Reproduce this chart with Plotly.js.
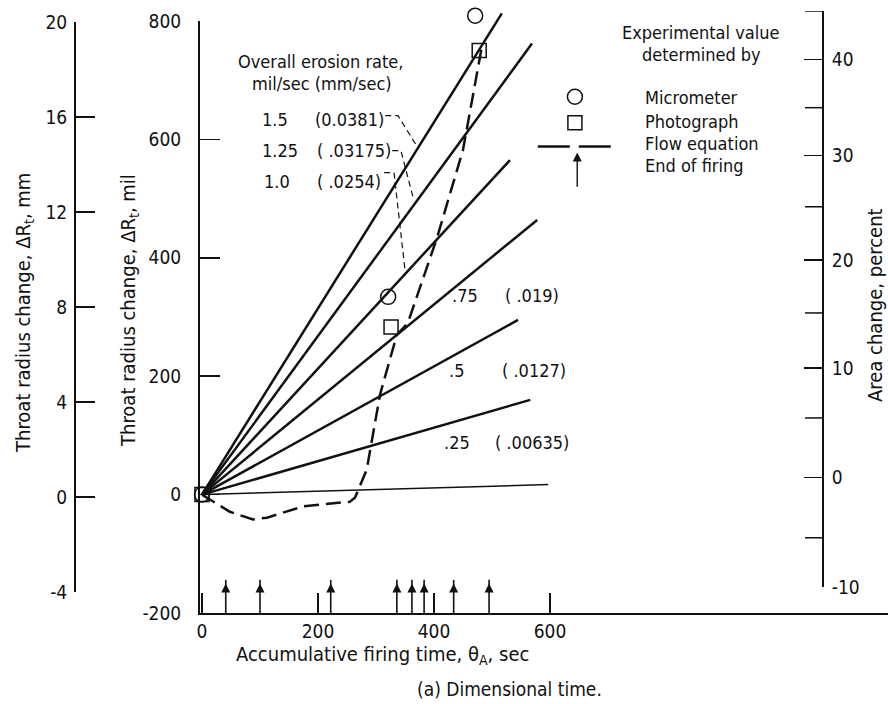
<!DOCTYPE html>
<html><head><meta charset="utf-8">
<script src="https://cdn.plot.ly/plotly-3.0.1.min.js"></script>
<style>body{margin:0;background:#fff}</style>
</head><body><div id="chart" style="width:888px;height:704px"></div>
<script>
// ---------- DATA ----------
// Overall erosion-rate reference lines, mil/sec (mm/sec)
const rateLabels = ['1.5', '1.25', '1.0', '.75', '.5', '.25', ''];
const rateMmLabels = ['(0.0381)', '( .03175)', '( .0254)', '( .019)', '( .0127)', '( .00635)', ''];
const originTime = 0, originValue = 0;
const rateEndTime = [517, 569, 531, 578, 545, 566, 597];
const rateEndValue = [813, 762, 565, 464, 295, 160, 17];

// Micrometer (circles)
const microTime = [0, 321, 471];
const microValue = [0, 334, 809];
// Photograph (squares)
const photoTime = [0, 326, 478];
const photoValue = [0, 283, 750];
// Flow equation (dashed curve)
const flowTime = [0, 48, 88, 112, 174, 255, 264, 284, 307, 336, 355, 405, 450, 483];
const flowValue = [0, -29, -42, -39, -20, -12, -5, 42, 169, 270, 290, 433, 582, 759];
// End of firing (arrows), sec
const endOfFiring = [41, 100, 222, 336, 362, 383, 434, 495];

// Tick values / labels
const xTicks = [0, 200, 400, 600];
const milTicks = [-200, 0, 200, 400, 600, 800];
const mmTicks = [-4, 0, 4, 8, 12, 16, 20];
const areaTickPercent = [-10, -5, 0, 5, 10, 15, 20, 25, 30, 35, 40, 45];
const areaTickMil = [-155, -72, 30, 130, 214, 307, 396, 486, 572, 653, 734, 816];

// ---------- LAYOUT HELPERS ----------
const W = 888, H = 704, ML = 75, MR = 0, MT = 8, MB = 91;
const PW = W - ML - MR, PH = H - MT - MB;
const px = p => (p - ML) / PW;          // page pixel -> paper x
const py = p => (H - MB - p) / PH;      // page pixel -> paper y
const FONT = 'DejaVu Sans Condensed, Liberation Sans Narrow, sans-serif';
const INK = '#111';
const lbl = v => String(v);             // plain hyphen minus as in the reference

const Y_TOP = -200 + PH / ((613 - 21) / 1000);   // data axis spanning the whole plot height, same scale as mil axis

const traces = [];
const DA = {yaxis: 'y4', hoverinfo: 'skip', showlegend: false};
// erosion-rate lines
rateEndTime.forEach((t, i) => {
  traces.push(Object.assign({x: [originTime, t], y: [originValue, rateEndValue[i]], mode: 'lines',
    line: {color: INK, width: rateLabels[i] === '' ? 1.5 : 2.5}}, DA));
});
// flow equation
traces.push(Object.assign({x: flowTime, y: flowValue, mode: 'lines', line: {color: INK, width: 2.5, dash: '15px,7px'}}, DA));
// experimental points
traces.push(Object.assign({x: microTime, y: microValue, mode: 'markers', cliponaxis: false,
  marker: {symbol: 'circle-open', size: 15, color: INK, line: {width: 1.5}}}, DA));
traces.push(Object.assign({x: photoTime, y: photoValue, mode: 'markers', cliponaxis: false,
  marker: {symbol: 'square-open', size: 14, color: INK, line: {width: 1.5}}}, DA));

// end-of-firing arrows: shafts from the time axis plus arrow heads
const AX_BASE = -200, AX_TIP = -150;
const shaftX = [], shaftY = [];
endOfFiring.forEach(t => { shaftX.push(t, t, null); shaftY.push(AX_BASE, AX_TIP + 6, null); });
traces.push(Object.assign({x: shaftX, y: shaftY, mode: 'lines', line: {color: INK, width: 1.6}}, DA));
traces.push(Object.assign({x: endOfFiring, y: endOfFiring.map(() => AX_TIP), mode: 'markers', cliponaxis: false,
  marker: {symbol: 'arrow-up', size: 9, color: INK, line: {width: 0}}}, DA));

// legend samples
traces.push(Object.assign({x: [643], y: [672], mode: 'markers',
  marker: {symbol: 'circle-open', size: 15, color: INK, line: {width: 1.5}}}, DA));
traces.push(Object.assign({x: [643], y: [628], mode: 'markers',
  marker: {symbol: 'square-open', size: 14, color: INK, line: {width: 1.5}}}, DA));
traces.push(Object.assign({x: [579, 707], y: [588, 588], mode: 'lines', line: {color: INK, width: 2.5, dash: '32px,9px'}}, DA));
traces.push(Object.assign({x: [647, 647], y: [520, 572], mode: 'lines', line: {color: INK, width: 1.4}}, DA));
traces.push(Object.assign({x: [647], y: [578], mode: 'markers', marker: {symbol: 'arrow-up', size: 9, color: INK, line: {width: 0}}}, DA));

// carriers for the visible axes
['y', 'y2', 'y3'].forEach(a => traces.push({x: [null], y: [null], yaxis: a, mode: 'markers', showlegend: false, hoverinfo: 'skip'}));

const ann = [];
const txt = (text, x, y, opts = {}) => ann.push(Object.assign({text, x: px(x), y: py(y), xref: 'paper', yref: 'paper',
  showarrow: false, font: {family: FONT, size: 18, color: INK}, xanchor: 'center', yanchor: 'middle'}, opts));

// axis titles
txt('Throat radius change, ΔR<sub>t</sub>, mm', 24, 313, {textangle: -90, font: {family: FONT, size: 20, color: INK}});
txt('Throat radius change, ΔR<sub>t</sub>, mil', 129, 311, {textangle: -90, font: {family: FONT, size: 20, color: INK}});
txt('Area change, percent', 875, 305, {textangle: -90, font: {family: FONT, size: 20, color: INK}});
txt('Accumulative firing time, θ<sub>A</sub>, sec', 382, 655, {font: {family: FONT, size: 20, color: INK}});
txt('(a) Dimensional time.', 509, 689, {font: {family: FONT, size: 19, color: INK}});
// erosion-rate header
txt('Overall erosion rate,', 320, 62);
txt('mil/sec (mm/sec)', 322, 84);
// erosion-rate labels (pixel positions of the label pairs)
const labelPos = [[260, 313, 120], [260, 315, 151], [262, 315, 181], [450, 503, 296], [447, 500, 370], [442, 493, 442]];
labelPos.forEach((p, i) => {
  txt(rateLabels[i], p[0], p[2], {xanchor: 'left'});
  txt(rateMmLabels[i], p[1], p[2], {xanchor: 'left'});
});
// legend text
txt('Experimental value', 700, 32);
txt('determined by', 701, 55);
txt('Micrometer', 643, 97, {xanchor: 'left'});
txt('Photograph', 643, 121, {xanchor: 'left'});
txt('Flow equation', 643, 143, {xanchor: 'left'});
txt('End of firing', 643, 165, {xanchor: 'left'});

// leader lines from the rate labels
const shapes = [
  'M316,640 L338,640 L369,591',
  'M328,581 L343,581 L364,502',
  'M314,544 L331,544 L350,380'
].map(p => ({type: 'path', path: p, xref: 'x', yref: 'y', line: {color: INK, width: 1.2, dash: '6px,4px'}}));

const labeled = areaTickPercent.map((p, i) => i).filter(i => areaTickPercent[i] % 10 === 0);
const unlabeled = areaTickPercent.map((p, i) => i).filter(i => areaTickPercent[i] % 10 !== 0);
// unlabeled (5 %) ticks of the area axis, at the tick values
const AREA_X = px(823), AREA_TICK = 18 / PW;
unlabeled.forEach(i => shapes.push({type: 'line', xref: 'paper', yref: 'y3', x0: AREA_X - AREA_TICK, x1: AREA_X,
  y0: areaTickMil[i], y1: areaTickMil[i], line: {color: INK, width: 1.5}}));

const axFont = {family: FONT, size: 19, color: INK};
const common = {showline: true, linewidth: 2, linecolor: INK, tickwidth: 1.5, tickcolor: INK, tickfont: axFont,
  showgrid: false, zeroline: false, tickmode: 'array'};
const layout = {
  width: W, height: H, margin: {l: ML, r: MR, t: MT, b: MB, pad: 0},
  paper_bgcolor: '#fff', plot_bgcolor: 'rgba(0,0,0,0)', showlegend: false,
  xaxis: Object.assign({}, common, {domain: [px(200), 1], range: [-3.4, 1182.8], anchor: 'y',
    ticks: 'inside', ticklen: 20, tickvals: xTicks, ticktext: xTicks.map(lbl), ticklabelstandoff: 0}),
  yaxis: Object.assign({}, common, {domain: [0, py(21)], range: [-200, 800], anchor: 'x',
    ticks: 'inside', ticklen: 20, tickvals: milTicks, ticktext: milTicks.map(lbl), ticklabelstandoff: 13}),
  yaxis2: Object.assign({}, common, {domain: [py(592), py(22)], range: [-4, 20], anchor: 'free', position: 0, side: 'left',
    ticks: 'inside', ticklen: 19, tickvals: mmTicks, ticktext: mmTicks.map(lbl), ticklabelstandoff: 3}),
  yaxis3: Object.assign({}, common, {domain: [py(587), py(11)], range: [-155, 816], anchor: 'free', position: AREA_X,
    side: 'right', ticks: 'inside', ticklen: 18, ticklabelstandoff: 4,
    tickvals: labeled.map(i => areaTickMil[i]), ticktext: labeled.map(i => lbl(areaTickPercent[i]))}),
  yaxis4: {domain: [0, 1], range: [-200, Y_TOP], anchor: 'x', visible: false, showgrid: false, zeroline: false},
  annotations: ann, shapes: shapes
};
Plotly.newPlot('chart', traces, layout, {staticPlot: true, displayModeBar: false});
</script></body></html>
